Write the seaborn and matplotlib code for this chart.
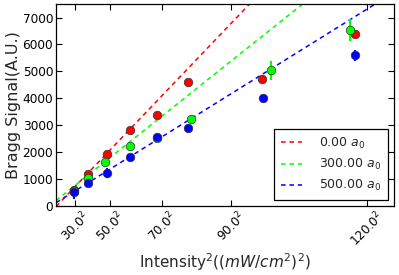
import matplotlib
matplotlib.use("Agg")
import matplotlib.pyplot as plt
import seaborn as sns
import numpy as np
import pandas as pd

# values (x is intensity squared)
labels = ["0.00 $a_0$", "300.00 $a_0$", "500.00 $a_0$"]
colors = ["#ff0000", "#00ff00", "#0000ff"]

x_red = [823, 1470, 2367, 3430, 4679, 6112, 9547, 13833]
y_red = [604, 1185, 1926, 2826, 3381, 4604, 4704, 6407]
e_red = [80, 90, 80, 60, 100, 120, 150, 110]

x_green = [809, 1470, 2288, 3421, 4679, 6265, 9949, 13616]
y_green = [541, 1037, 1630, 2215, 2541, 3233, 5048, 6541]
e_green = [60, 80, 100, 80, 100, 150, 350, 420]

x_blue = [809, 1489, 2367, 3421, 4669, 6126, 9593, 13833]
y_blue = [504, 852, 1222, 1822, 2555, 2889, 4000, 5604]
e_blue = [250, 80, 200, 80, 130, 150, 70, 210]

# linear fits (slope, intercept)
slopes = [0.84, 0.64, 0.50]
intercepts = [-20, 200, 120]

tick_base = [30.0, 50.0, 70.0, 90.0, 120.0]

sns.set_style("ticks")
plt.rcParams["font.family"] = ["DejaVu Sans"]

fig, ax = plt.subplots(figsize=(3.99, 2.75), dpi=100)
fig.subplots_adjust(left=0.1404, right=0.988, bottom=0.251, top=0.985)

xs = [x_red, x_green, x_blue]
ys = [y_red, y_green, y_blue]
es = [e_red, e_green, e_blue]

x_line = np.array([0, 16000])
for lab, col, m, b in zip(labels, colors, slopes, intercepts):
    fit = pd.DataFrame({"x": x_line, "y": m * x_line + b})
    sns.lineplot(data=fit, x="x", y="y", ax=ax, color=col, lw=1.1,
                 linestyle=(0, (3, 2.5)), label=lab, zorder=2)

for x, y, e, col in zip(xs, ys, es, colors):
    ax.errorbar(x, y, yerr=e, fmt="none", ecolor=col, elinewidth=1.5,
                capsize=0, zorder=3)
    df = pd.DataFrame({"x": x, "y": y})
    sns.scatterplot(data=df, x="x", y="y", ax=ax, color=col, s=38,
                    edgecolor="#333333", linewidth=0.5, zorder=4, legend=False)

ax.set_xlim(0, 15650)
ax.set_ylim(0, 7500)
ax.set_yticks(range(0, 7001, 1000))
ax.set_xticks([t ** 2 for t in tick_base])
ax.set_xticklabels([f"{t:.1f}$^2$" for t in tick_base], rotation=45)
ax.tick_params(direction="in", top=True, right=True, length=4, width=0.8,
               labelsize=8.7, colors="black", pad=2)
for sp in ax.spines.values():
    sp.set_color("black")
    sp.set_linewidth(0.9)

ax.set_xlabel(r"Intensity$^2$($(mW/cm^2)^2$)", fontsize=11, labelpad=1)
ax.set_ylabel("Bragg Signal(A.U.)", fontsize=11.5, labelpad=1)

leg = ax.legend(loc="lower right", fontsize=9, fancybox=False,
                edgecolor="black", framealpha=1, handlelength=1.7,
                handletextpad=1.4, borderpad=0.5)
leg.get_frame().set_linewidth(0.9)

plt.savefig("out.png", dpi=100)
